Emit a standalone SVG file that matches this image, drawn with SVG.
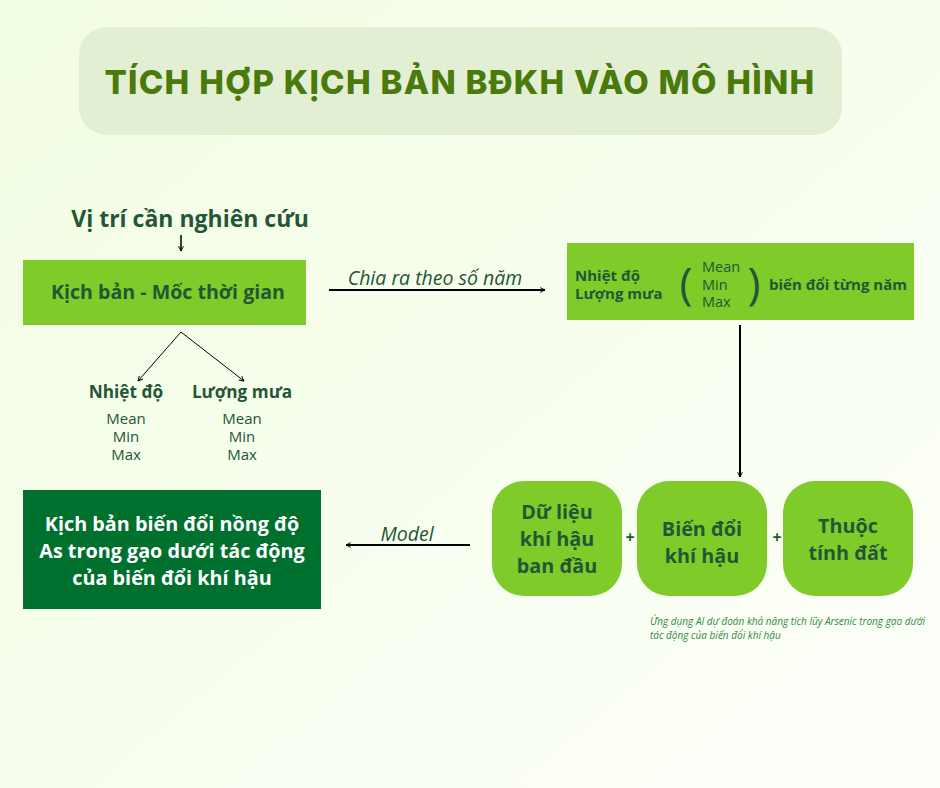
<svg xmlns="http://www.w3.org/2000/svg" width="940" height="788" viewBox="0 0 940 788">
<defs>
<linearGradient id="bg" x1="0" y1="0" x2="1" y2="1">
<stop offset="0" stop-color="#F1FDE2"/>
<stop offset="1" stop-color="#FDFFFA"/>
</linearGradient>
<marker id="ah" viewBox="0 0 10 10" refX="9" refY="5" markerWidth="6" markerHeight="6" orient="auto-start-reverse" markerUnits="userSpaceOnUse">
<path d="M1,1 L9,5 L1,9" fill="none" stroke="#000" stroke-width="1.6"/>
</marker>
</defs>
<style>
text{font-family:"Open Sans","Noto Sans",sans-serif;fill:#245636}
.b{font-weight:700}
.it{font-style:italic}
.lg{fill:#7ECB2A}
.ln{stroke:#000;stroke-width:2;fill:none}
</style>
<rect width="940" height="788" fill="url(#bg)"/>
<g id="title">
<rect x="79" y="27" width="763" height="108" rx="28" fill="#E2EFD3"/>
<text x="460" y="94" text-anchor="middle" style="font-family:'Inter','Lato',sans-serif;font-size:33px;fill:#4A7A0C;font-weight:800;letter-spacing:1.3px">TÍCH HỢP KỊCH BẢN BĐKH VÀO MÔ HÌNH</text>
</g>
<g id="location">
<text x="190" y="227" text-anchor="middle" class="b" font-size="23">Vị trí cần nghiên cứu</text>
</g>
<g id="scenario">
<rect x="23" y="260" width="283" height="65" class="lg"/>
<text x="168" y="299" text-anchor="middle" class="b" font-size="19.6">Kịch bản - Mốc thời gian</text>
</g>
<g id="temp">
<text x="126" y="398" text-anchor="middle" class="b" font-size="17.2">Nhiệt độ</text>
<text x="126" y="424" text-anchor="middle" font-size="15">Mean</text>
<text x="126" y="442" text-anchor="middle" font-size="15">Min</text>
<text x="126" y="460" text-anchor="middle" font-size="15">Max</text>
</g>
<g id="rain">
<text x="242" y="398" text-anchor="middle" class="b" font-size="17.2">Lượng mưa</text>
<text x="242" y="424" text-anchor="middle" font-size="15">Mean</text>
<text x="242" y="442" text-anchor="middle" font-size="15">Min</text>
<text x="242" y="460" text-anchor="middle" font-size="15">Max</text>
</g>
<g id="yearly">
<rect x="567" y="243" width="347" height="77" class="lg"/>
<text x="575" y="281" class="b" font-size="15">Nhiệt độ</text>
<text x="575" y="299" class="b" font-size="15">Lượng mưa</text>
<text x="686" y="299" text-anchor="middle" font-size="44">(</text>
<text x="754" y="299" text-anchor="middle" font-size="44">)</text>
<text x="702" y="272" font-size="14.5">Mean</text>
<text x="702" y="290" font-size="14.5">Min</text>
<text x="702" y="307" font-size="14.5">Max</text>
<text x="769" y="290" class="b" font-size="15">biến đổi từng năm</text>
</g>
<g id="result">
<rect x="23" y="490" width="298" height="119" fill="#00702E"/>
<text x="172" y="531" text-anchor="middle" class="b" font-size="19.8" style="fill:#fff">Kịch bản biến đổi nồng độ</text>
<text x="172" y="558" text-anchor="middle" class="b" font-size="19.8" style="fill:#fff">As trong gạo dưới tác động</text>
<text x="172" y="585" text-anchor="middle" class="b" font-size="19.8" style="fill:#fff">của biến đổi khí hậu</text>
</g>
<g id="base-climate">
<rect x="492" y="481" width="130" height="115" rx="32" class="lg"/>
<text x="557" y="519" text-anchor="middle" class="b" font-size="19.8">Dữ liệu</text>
<text x="557" y="546" text-anchor="middle" class="b" font-size="19.8">khí hậu</text>
<text x="557" y="573" text-anchor="middle" class="b" font-size="19.8">ban đầu</text>
</g>
<g id="climate-change">
<rect x="637" y="481" width="130" height="115" rx="32" class="lg"/>
<text x="702" y="536" text-anchor="middle" class="b" font-size="19.8">Biến đổi</text>
<text x="702" y="563" text-anchor="middle" class="b" font-size="19.8">khí hậu</text>
</g>
<g id="soil">
<rect x="783" y="481" width="130" height="115" rx="32" class="lg"/>
<text x="848" y="533" text-anchor="middle" class="b" font-size="19.8">Thuộc</text>
<text x="848" y="560" text-anchor="middle" class="b" font-size="19.8">tính đất</text>
</g>
<g id="plus">
<text x="630" y="543" text-anchor="middle" class="b" font-size="16">+</text>
<text x="777" y="543" text-anchor="middle" class="b" font-size="16">+</text>
</g>
<g id="note">
<text x="650" y="625" class="it" font-size="10" style="fill:#2E8B3E">Ứng dụng AI dự đoán khả năng tích lũy Arsenic trong gạo dưới</text>
<text x="650" y="639" class="it" font-size="10" style="fill:#2E8B3E">tác động của biến đổi khí hậu</text>
</g>
<g id="connectors">
<line x1="181" y1="235" x2="181" y2="251" stroke="#000" stroke-width="1.5" marker-end="url(#ah)"/>
<polyline points="138,381 181,332 244,381" fill="none" stroke="#000" stroke-width="1" marker-start="url(#ah)" marker-end="url(#ah)"/>
<line x1="329" y1="290" x2="545" y2="290" class="ln" marker-end="url(#ah)"/>
<text x="435" y="285" text-anchor="middle" class="it" font-size="19.5">Chia ra theo số năm</text>
<line x1="740" y1="325" x2="740" y2="477" class="ln" marker-end="url(#ah)"/>
<line x1="470" y1="545" x2="346" y2="545" class="ln" marker-end="url(#ah)"/>
<text x="407" y="541" text-anchor="middle" class="it" font-size="19.5">Model</text>
</g>
</svg>
